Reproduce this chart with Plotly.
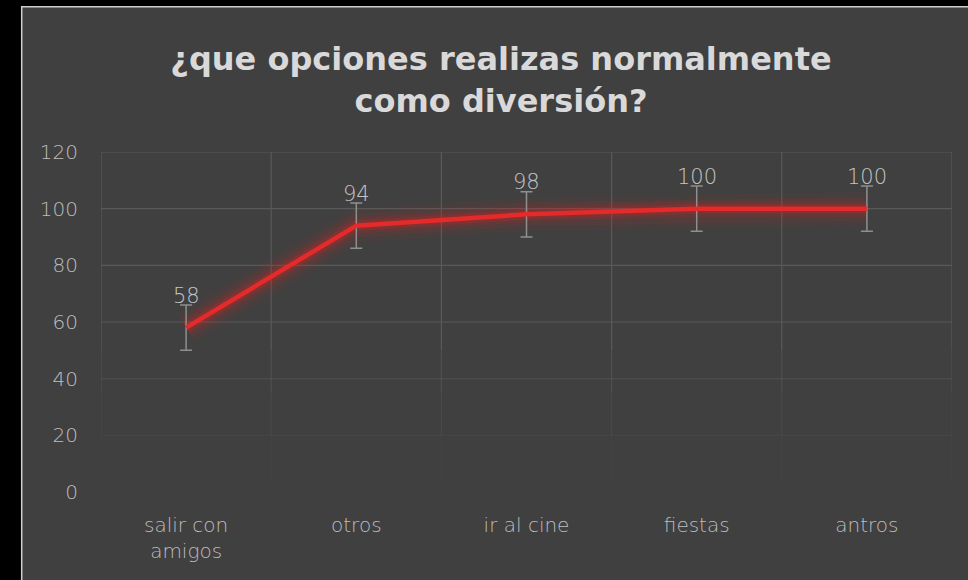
import plotly.graph_objects as go

categories = ["salir con<br>amigos", "otros", "ir al cine", "fiestas", "antros"]
values = [58, 94, 98, 100, 100]
error_size = [8, 8, 8, 8, 8]
y_ticks = [0, 20, 40, 60, 80, 100, 120]

FONT = "DejaVu Sans"
BG = "#404040"
GRID = "#595959"

# plot area in pixels, used to place the outer frame in paper units
L, R, T, B = 101, 16, 152, 88
PW, PH = 968 - L - R, 580 - T - B


def px_x(p):
    return (p - L) / PW


def px_y(p):
    return (580 - B - p) / PH


fig = go.Figure()

# soft red glow under the line
for width, alpha in [(34, 0.05), (24, 0.08), (16, 0.14), (10, 0.22)]:
    fig.add_trace(go.Scatter(
        x=categories, y=values, mode="lines",
        line={"color": f"rgba(220,35,35,{alpha})", "width": width},
        hoverinfo="skip", showlegend=False,
    ))

fig.add_trace(go.Scatter(
    x=categories, y=values, mode="lines",
    line={"color": "#e42a2a", "width": 4.5},
    error_y={"type": "data", "array": error_size, "color": "#8f8f8f", "thickness": 1.5, "width": 6},
    showlegend=False,
))

# data labels above the error bars
for cat, val in zip(categories, values):
    fig.add_annotation(x=cat, y=val, text=str(val), showarrow=False, yshift=32,
                       font={"family": FONT, "size": 21, "color": "#c4c4c4", "weight": 200})

# outer frame: black strip on left and top, light edge line
shapes = [
    dict(type="rect", xref="paper", yref="paper", x0=px_x(-5), x1=px_x(21), y0=px_y(600), y1=px_y(-5),
         fillcolor="#000000", line={"width": 0}, layer="below"),
    dict(type="rect", xref="paper", yref="paper", x0=px_x(-5), x1=px_x(990), y0=px_y(6), y1=px_y(-5),
         fillcolor="#000000", line={"width": 0}, layer="below"),
    dict(type="line", xref="paper", yref="paper", x0=px_x(21.7), x1=px_x(21.7), y0=px_y(600), y1=px_y(6),
         line={"color": "#cfcfcf", "width": 1.5}, layer="below"),
    dict(type="line", xref="paper", yref="paper", x0=px_x(21), x1=px_x(990), y0=px_y(6.7), y1=px_y(6.7),
         line={"color": "#cfcfcf", "width": 1.5}, layer="below"),
]

# gridlines that fade towards the bottom, like the original
fade = {120: 1.0, 100: 1.0, 80: 1.0, 60: 1.0, 40: 0.5, 20: 0.22, 0: 0.0}
for t in y_ticks:
    if fade[t] > 0:
        shapes.append(dict(type="line", xref="x", yref="y", x0=-0.5, x1=len(categories) - 0.5, y0=t, y1=t,
                           line={"color": GRID, "width": 1.2}, opacity=fade[t], layer="below"))
for i in range(len(categories) + 1):
    xv = i - 0.5
    for lo, hi, op in [(50, 120, 1.0), (35, 50, 0.6), (20, 35, 0.35), (3, 20, 0.15)]:
        shapes.append(dict(type="line", xref="x", yref="y", x0=xv, x1=xv, y0=lo, y1=hi,
                           line={"color": GRID, "width": 1.2}, opacity=op, layer="below"))

fig.update_layout(
    width=968, height=580,
    margin={"l": L, "r": R, "t": T, "b": B},
    paper_bgcolor=BG,
    plot_bgcolor="rgba(0,0,0,0)",
    shapes=shapes,
    title={
        "text": "<b>¿que opciones realizas normalmente<br>como diversión?</b>",
        "x": 501 / 968, "xanchor": "center", "y": 1 - 70 / 580, "yanchor": "middle",
        "font": {"family": FONT, "size": 32, "color": "#d9d9d9"},
    },
    xaxis={
        "range": [-0.5, 4.5], "showgrid": False, "zeroline": False, "showline": False,
        "ticks": "", "ticklabelstandoff": 19,
        "tickfont": {"family": FONT, "size": 20, "color": "#bdbdbd", "weight": 200},
    },
    yaxis={
        "range": [0, 120], "tickvals": y_ticks, "showgrid": False, "zeroline": False,
        "showline": False, "ticks": "", "ticklabelstandoff": 22,
        "tickfont": {"family": FONT, "size": 20, "color": "#bdbdbd", "weight": 200},
    },
)

fig.write_html("out.html", config={"displayModeBar": False},
               post_script="document.body.style.margin='0';")
